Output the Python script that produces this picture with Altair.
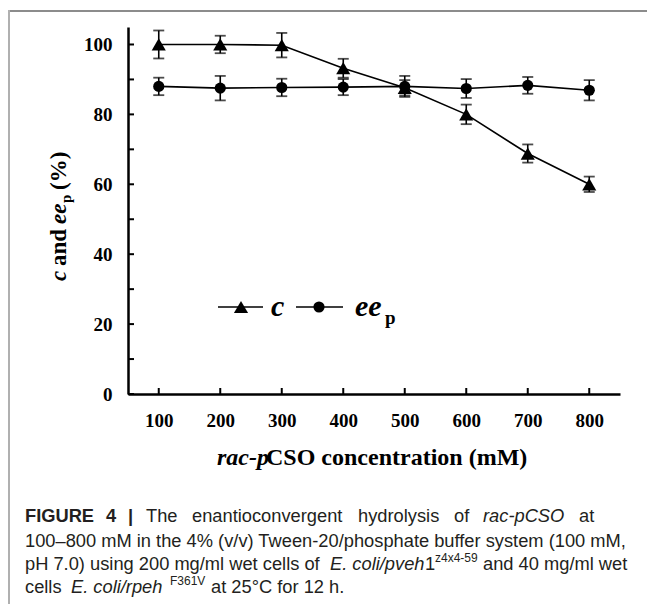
import altair as alt
import pandas as pd

# ---- data ----
concentration = [100, 200, 300, 400, 500, 600, 700, 800]
c_values = [100.0, 100.0, 99.8, 93.2, 87.6, 80.0, 68.8, 60.0]
c_err = [4.0, 2.5, 3.5, 2.7, 2.2, 2.8, 2.6, 2.2]
ee_values = [88.0, 87.5, 87.7, 87.8, 88.0, 87.4, 88.3, 86.9]
ee_err = [2.5, 3.5, 2.5, 2.3, 3.0, 2.7, 2.4, 2.9]
y_label_values = [0, 20, 40, 60, 80, 100]
y_tick_values = [0, 10, 20, 30, 40, 50, 60, 70, 80, 90, 100]
x_tick_values = [100, 200, 300, 400, 500, 600, 700, 800]

# ---- layout ----
OX, OY = 128, 27          # plot origin on the page
W, H = 492, 367           # plot area
SERIF = "Liberation Serif"
SANS = "Liberation Sans"

df_c = pd.DataFrame({"x": concentration, "y": c_values,
                     "lo": [v - e for v, e in zip(c_values, c_err)],
                     "hi": [v + e for v, e in zip(c_values, c_err)]})
df_e = pd.DataFrame({"x": concentration, "y": ee_values,
                     "lo": [v - e for v, e in zip(ee_values, ee_err)],
                     "hi": [v + e for v, e in zip(ee_values, ee_err)]})

xs = alt.Scale(domain=[50, 850], nice=False, zero=False)
ys = alt.Scale(domain=[0, 105], nice=False, zero=False)

x_axis = alt.Axis(values=x_tick_values, ticks=False, grid=False, domainColor="black",
                  domainWidth=2.5, labelFont=SERIF, labelFontWeight="bold", labelFontSize=19,
                  labelColor="black", labelPadding=17, title=None, labelFlush=False)
y_axis = alt.Axis(values=y_label_values, ticks=False, grid=False, domainColor="black",
                  domainWidth=2.5, labelFont=SERIF, labelFontWeight="bold", labelFontSize=19,
                  labelColor="black", labelPadding=16, title=None)

def X(field="x"):
    return alt.X(f"{field}:Q", scale=xs, axis=x_axis)

def Y(field="y"):
    return alt.Y(f"{field}:Q", scale=ys, axis=y_axis)

layers = []

tick_df_y = pd.DataFrame({"v": y_tick_values})
tick_df_x = pd.DataFrame({"v": x_tick_values})
layers.append(alt.Chart(tick_df_y).mark_rule(color="black", strokeWidth=2).encode(
    y=Y("v"), x=alt.value(0), x2=alt.value(6)))
layers.append(alt.Chart(tick_df_x).mark_rule(color="black", strokeWidth=2).encode(
    x=X("v"), y=alt.value(H), y2=alt.value(H - 6)))

for df, shape, size in [(df_c, "triangle-up", 200), (df_e, "circle", 125)]:
    base = alt.Chart(df)
    layers.append(base.mark_line(color="black", strokeWidth=1.6).encode(x=X(), y=Y()))
    layers.append(base.mark_rule(color="black", strokeWidth=1.6).encode(x=X(), y=Y("lo"), y2="hi:Q"))
    layers.append(base.mark_tick(color="black", orient="horizontal", size=11, thickness=1.8).encode(x=X(), y=Y("lo")))
    layers.append(base.mark_tick(color="black", orient="horizontal", size=11, thickness=1.8).encode(x=X(), y=Y("hi")))
    layers.append(base.mark_point(shape=shape, filled=True, color="black", opacity=1, size=size).encode(x=X(), y=Y()))

one = pd.DataFrame({"k": [0]})

def txt(s, x, y, size, font=SERIF, weight="bold", style="normal", angle=0,
        align="left", baseline="alphabetic", color="black"):
    return alt.Chart(one).mark_text(text=s, font=font, fontSize=size, fontWeight=weight,
                                    fontStyle=style, angle=angle, align=align,
                                    baseline=baseline, color=color).encode(
        x=alt.value(x - OX), y=alt.value(y - OY))

def hline(x1, x2, y, color="black", w=1.6):
    return alt.Chart(one).mark_rule(color=color, strokeWidth=w).encode(
        x=alt.value(x1 - OX), x2=alt.value(x2 - OX), y=alt.value(y - OY))

def vline(x, y1, y2, color="black", w=1.6):
    return alt.Chart(one).mark_rule(color=color, strokeWidth=w).encode(
        x=alt.value(x - OX), y=alt.value(y1 - OY), y2=alt.value(y2 - OY))

def sym(x, y, shape, size):
    return alt.Chart(one).mark_point(shape=shape, filled=True, color="black", opacity=1,
                                     size=size).encode(x=alt.value(x - OX), y=alt.value(y - OY))

# legend
layers += [hline(218, 263, 307), sym(241, 307, "triangle-up", 200),
           txt("c", 271, 316, 30, style="italic"),
           hline(296, 343, 307), sym(319, 307, "circle", 125),
           txt("ee", 355, 316, 30, style="italic"),
           txt("p", 385, 324, 19)]

# y title (rotated pieces)
layers += [txt("c", 66, 281, 23, style="italic", angle=270),
           txt("and", 66, 266, 23, angle=270),
           txt("ee", 66, 224, 23, style="italic", angle=270),
           txt("p", 71, 203, 15, angle=270),
           txt("(%)", 66, 190, 23, angle=270)]

# x title
layers += [txt("rac-p", 217, 465, 24, style="italic"),
           txt("CSO concentration (mM)", 266, 465, 24)]

# frame
layers += [hline(8, 647, 11, color="#8c8c8c", w=2), vline(9, 10, 604, color="#b0b0b0", w=2)]

# caption (justified lines placed word by word)
CC = "#231f20"
cap = lambda s, x, y, style="normal", weight="normal", size=18.3: txt(
    s, x, y, size, font=SANS, weight=weight, style=style, color=CC)
layers += [cap("FIGURE", 25, 522, weight="bold"),
           cap("4", 106, 522, weight="bold"),
           cap("|", 128, 522, weight="bold"),
           cap("The", 146, 522),
           cap("enantioconvergent", 192, 522),
           cap("hydrolysis", 358, 522),
           cap("of", 454, 522),
           cap("rac-pCSO", 483, 522, style="italic"),
           cap("at", 579, 522),
           cap("100–800 mM in the 4% (v/v) Tween-20/phosphate buffer system (100 mM,", 25, 547),
           cap("pH 7.0) using 200 mg/ml wet cells of", 25, 570),
           cap("E. coli/pveh", 330, 570, style="italic"),
           cap("1", 425, 570),
           cap("z4x4-59", 435, 562, size=12),
           cap("and 40 mg/ml wet", 483, 570),
           cap("cells", 25, 593),
           cap("E. coli/rpeh", 71, 593, style="italic"),
           cap("F361V", 170, 585, size=12),
           cap("at 25°C for 12 h.", 211, 593)]

chart = alt.layer(*layers).properties(
    width=W, height=H,
    autosize=alt.AutoSizeParams(type="none"),
    padding={"left": OX, "top": OY, "right": 647 - OX - W, "bottom": 606 - OY - H},
    background="white",
).configure_view(stroke=None)

chart.save("out.html", embed_options={"renderer": "svg", "actions": False})
